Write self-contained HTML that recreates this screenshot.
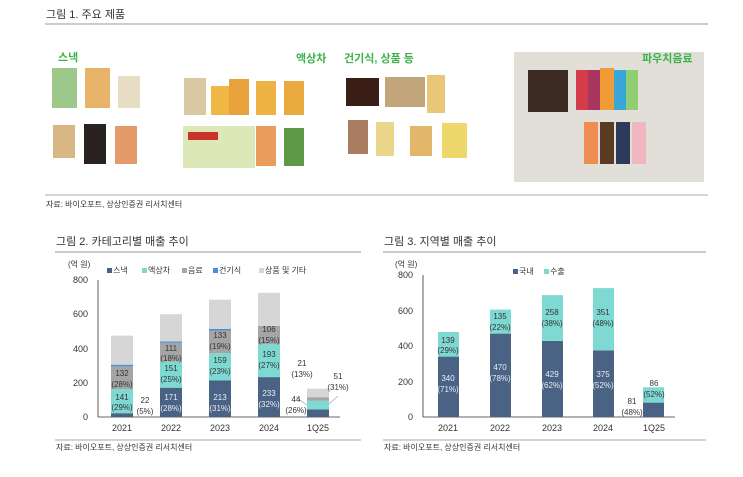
<!DOCTYPE html>
<html><head><meta charset="utf-8"><style>
body{margin:0;background:#fff;}
svg{display:block;font-family:"Liberation Sans","Noto Sans CJK KR",sans-serif;}
</style></head><body>
<svg width="743" height="477" viewBox="0 0 743 477" xmlns="http://www.w3.org/2000/svg">
<text x="46" y="18" font-size="11" fill="#333">그림 1. 주요 제품</text>
<line x1="45" y1="24" x2="708" y2="24" stroke="#999" stroke-width="1"/>
<text x="58" y="61" font-size="11" font-weight="bold" fill="#3cb34a">스낵</text>
<text x="296" y="62" font-size="11" font-weight="bold" fill="#3cb34a">액상차</text>
<text x="344" y="62" font-size="11" font-weight="bold" fill="#3cb34a">건기식, 상품 등</text>
<rect x="514" y="52" width="190" height="130" fill="#e2ded8"/>
<text x="642" y="62" font-size="11" font-weight="bold" fill="#3cb34a">파우치음료</text>
<rect x="52" y="68" width="25" height="40" fill="#9cc98a"/>
<rect x="85" y="68" width="25" height="40" fill="#e8b46a"/>
<rect x="118" y="76" width="22" height="32" fill="#e7dcc4"/>
<rect x="53" y="125" width="22" height="33" fill="#d9b784"/>
<rect x="84" y="124" width="22" height="40" fill="#2a2220"/>
<rect x="115" y="126" width="22" height="38" fill="#e59a6a"/>
<rect x="184" y="78" width="22" height="37" fill="#d9c9a2"/>
<rect x="211" y="86" width="18" height="29" fill="#eeb746"/>
<rect x="229" y="79" width="20" height="36" fill="#e9a33d"/>
<rect x="256" y="81" width="20" height="34" fill="#edb444"/>
<rect x="284" y="81" width="20" height="34" fill="#eaa93f"/>
<rect x="183" y="126" width="72" height="42" fill="#dce8b8"/>
<rect x="188" y="132" width="30" height="8" fill="#c8342b"/>
<rect x="256" y="126" width="20" height="40" fill="#e99c5c"/>
<rect x="284" y="128" width="20" height="38" fill="#5e9a45"/>
<rect x="346" y="78" width="33" height="28" fill="#3a1d17"/>
<rect x="385" y="77" width="40" height="30" fill="#c2a57a"/>
<rect x="427" y="75" width="18" height="38" fill="#e9c777"/>
<rect x="348" y="120" width="20" height="34" fill="#a87d62"/>
<rect x="376" y="122" width="18" height="34" fill="#e9d68a"/>
<rect x="410" y="126" width="22" height="30" fill="#e3b76a"/>
<rect x="442" y="123" width="25" height="35" fill="#efd86b"/>
<rect x="528" y="70" width="40" height="42" fill="#3b2a22"/>
<rect x="576" y="70" width="12" height="40" fill="#d63b4a"/>
<rect x="588" y="70" width="12" height="40" fill="#a8365e"/>
<rect x="600" y="68" width="14" height="42" fill="#ef9b38"/>
<rect x="614" y="70" width="12" height="40" fill="#3aa7d9"/>
<rect x="626" y="70" width="12" height="40" fill="#8fce72"/>
<rect x="584" y="122" width="14" height="42" fill="#ee8d52"/>
<rect x="600" y="122" width="14" height="42" fill="#5a3a20"/>
<rect x="616" y="122" width="14" height="42" fill="#2e3a5c"/>
<rect x="632" y="122" width="14" height="42" fill="#f0b7c0"/>
<line x1="45" y1="195" x2="708" y2="195" stroke="#aaa" stroke-width="1"/>
<text x="46" y="207" font-size="8" fill="#333">자료: 바이오포트, 상상인증권 리서치센터</text>

<text x="56" y="245" font-size="11" fill="#333">그림 2. 카테고리별 매출 추이</text>
<line x1="55" y1="252" x2="361" y2="252" stroke="#999"/>
<text x="68" y="267" font-size="8" fill="#333">(억 원)</text>
<g font-size="8" fill="#333">
<rect x="107" y="268" width="5" height="5" fill="#4a6283"/><text x="113" y="273">스낵</text>
<rect x="142" y="268" width="5" height="5" fill="#7fd9d3"/><text x="148" y="273">액상차</text>
<rect x="182" y="268" width="5" height="5" fill="#a5a5a5"/><text x="188" y="273">음료</text>
<rect x="213" y="268" width="5" height="5" fill="#4a8ed9"/><text x="219" y="273">건기식</text>
<rect x="259" y="268" width="5" height="5" fill="#d6d6d6"/><text x="265" y="273">상품 및 기타</text>
</g>
<g font-size="9" fill="#333" text-anchor="end">
<text x="88" y="283">800</text><text x="88" y="317">600</text><text x="88" y="352">400</text><text x="88" y="386">200</text><text x="88" y="420">0</text>
</g>
<line x1="98" y1="280" x2="98" y2="417" stroke="#333" stroke-width="0.8"/>
<line x1="98" y1="417" x2="340" y2="417" stroke="#333" stroke-width="0.8"/>
<rect x="111" y="413.2" width="22" height="3.8" fill="#4a6283"/>
<rect x="111" y="389" width="22" height="24.2" fill="#7fd9d3"/>
<rect x="111" y="366.4" width="22" height="22.6" fill="#a5a5a5"/>
<rect x="111" y="364.7" width="22" height="1.7" fill="#4a8ed9"/>
<rect x="111" y="335.6" width="22" height="29.1" fill="#d6d6d6"/>
<rect x="160" y="387.7" width="22" height="29.3" fill="#4a6283"/>
<rect x="160" y="361.8" width="22" height="25.9" fill="#7fd9d3"/>
<rect x="160" y="342.8" width="22" height="19" fill="#a5a5a5"/>
<rect x="160" y="341.4" width="22" height="1.4" fill="#4a8ed9"/>
<rect x="160" y="314.2" width="22" height="27.2" fill="#d6d6d6"/>
<rect x="209" y="380.5" width="22" height="36.5" fill="#4a6283"/>
<rect x="209" y="353.3" width="22" height="27.2" fill="#7fd9d3"/>
<rect x="209" y="330.5" width="22" height="22.8" fill="#a5a5a5"/>
<rect x="209" y="328.8" width="22" height="1.7" fill="#4a8ed9"/>
<rect x="209" y="299.7" width="22" height="29.1" fill="#d6d6d6"/>
<rect x="258" y="377.1" width="22" height="39.9" fill="#4a6283"/>
<rect x="258" y="344" width="22" height="33.1" fill="#7fd9d3"/>
<rect x="258" y="325.8" width="22" height="18.2" fill="#a5a5a5"/>
<rect x="258" y="292.8" width="22" height="33" fill="#d6d6d6"/>
<rect x="307" y="409.5" width="22" height="7.5" fill="#4a6283"/>
<rect x="307" y="400.8" width="22" height="8.7" fill="#7fd9d3"/>
<rect x="307" y="397.2" width="22" height="3.6" fill="#a5a5a5"/>
<rect x="307" y="388.7" width="22" height="8.5" fill="#d6d6d6"/>
<line x1="307" y1="405" x2="296" y2="397" stroke="#999" stroke-width="0.6"/>
<line x1="329" y1="404" x2="338" y2="396" stroke="#999" stroke-width="0.6"/>
<g font-size="8" text-anchor="middle" fill="#333">
<text x="122" y="376">132</text><text x="122" y="387">(28%)</text>
<text x="122" y="400">141</text><text x="122" y="410">(29%)</text>
<text x="145" y="403">22</text><text x="145" y="414">(5%)</text>
<text x="171" y="351">111</text><text x="171" y="361">(18%)</text>
<text x="171" y="371">151</text><text x="171" y="382">(25%)</text>
<text x="171" y="400" fill="#e8eef5">171</text><text x="171" y="411" fill="#e8eef5">(28%)</text>
<text x="220" y="338">133</text><text x="220" y="349">(19%)</text>
<text x="220" y="363">159</text><text x="220" y="374">(23%)</text>
<text x="220" y="400" fill="#e8eef5">213</text><text x="220" y="411" fill="#e8eef5">(31%)</text>
<text x="269" y="332">106</text><text x="269" y="343">(15%)</text>
<text x="269" y="357">193</text><text x="269" y="368">(27%)</text>
<text x="269" y="396" fill="#e8eef5">233</text><text x="269" y="407" fill="#e8eef5">(32%)</text>
<text x="302" y="366">21</text><text x="302" y="377">(13%)</text>
<text x="338" y="379">51</text><text x="338" y="390">(31%)</text>
<text x="296" y="402">44</text><text x="296" y="413">(26%)</text>
</g>
<g font-size="9" text-anchor="middle" fill="#333">
<text x="122" y="431">2021</text><text x="171" y="431">2022</text><text x="220" y="431">2023</text><text x="269" y="431">2024</text><text x="318" y="431">1Q25</text>
</g>
<line x1="55" y1="440" x2="361" y2="440" stroke="#aaa"/>
<text x="56" y="450" font-size="8" fill="#333">자료: 바이오포트, 상상인증권 리서치센터</text>

<text x="384" y="245" font-size="11" fill="#333">그림 3. 지역별 매출 추이</text>
<line x1="383" y1="252" x2="706" y2="252" stroke="#999"/>
<text x="395" y="267" font-size="8" fill="#333">(억 원)</text>
<g font-size="8" fill="#333">
<rect x="513" y="269" width="5" height="5" fill="#4a6283"/><text x="519" y="274">국내</text>
<rect x="544" y="269" width="5" height="5" fill="#7fd9d3"/><text x="550" y="274">수출</text>
</g>
<g font-size="9" fill="#333" text-anchor="end">
<text x="413" y="278">800</text><text x="413" y="314">600</text><text x="413" y="349">400</text><text x="413" y="385">200</text><text x="413" y="420">0</text>
</g>
<line x1="423" y1="275" x2="423" y2="417" stroke="#333" stroke-width="0.8"/>
<line x1="423" y1="417" x2="675" y2="417" stroke="#333" stroke-width="0.8"/>
<rect x="438" y="356.6" width="21" height="60.4" fill="#4a6283"/>
<rect x="438" y="332" width="21" height="24.6" fill="#7fd9d3"/>
<rect x="490" y="333.6" width="21" height="83.4" fill="#4a6283"/>
<rect x="490" y="309.6" width="21" height="24" fill="#7fd9d3"/>
<rect x="542" y="340.9" width="21" height="76.1" fill="#4a6283"/>
<rect x="542" y="295.1" width="21" height="45.8" fill="#7fd9d3"/>
<rect x="593" y="350.4" width="21" height="66.6" fill="#4a6283"/>
<rect x="593" y="288.1" width="21" height="62.3" fill="#7fd9d3"/>
<rect x="643" y="402.6" width="21" height="14.4" fill="#4a6283"/>
<rect x="643" y="387.3" width="21" height="15.3" fill="#7fd9d3"/>
<g font-size="8" text-anchor="middle" fill="#333">
<text x="448" y="343">139</text><text x="448" y="353">(29%)</text>
<text x="448" y="381" fill="#e8eef5">340</text><text x="448" y="392" fill="#e8eef5">(71%)</text>
<text x="500" y="319">135</text><text x="500" y="330">(22%)</text>
<text x="500" y="370" fill="#e8eef5">470</text><text x="500" y="381" fill="#e8eef5">(78%)</text>
<text x="552" y="315">258</text><text x="552" y="326">(38%)</text>
<text x="552" y="377" fill="#e8eef5">429</text><text x="552" y="388" fill="#e8eef5">(62%)</text>
<text x="603" y="315">351</text><text x="603" y="326">(48%)</text>
<text x="603" y="377" fill="#e8eef5">375</text><text x="603" y="388" fill="#e8eef5">(52%)</text>
<text x="654" y="386">86</text><text x="654" y="397">(52%)</text>
<text x="632" y="404">81</text><text x="632" y="415">(48%)</text>
</g>
<g font-size="9" text-anchor="middle" fill="#333">
<text x="448" y="431">2021</text><text x="500" y="431">2022</text><text x="552" y="431">2023</text><text x="603" y="431">2024</text><text x="654" y="431">1Q25</text>
</g>
<line x1="383" y1="440" x2="706" y2="440" stroke="#aaa"/>
<text x="384" y="450" font-size="8" fill="#333">자료: 바이오포트, 상상인증권 리서치센터</text>
</svg>
</body></html>
